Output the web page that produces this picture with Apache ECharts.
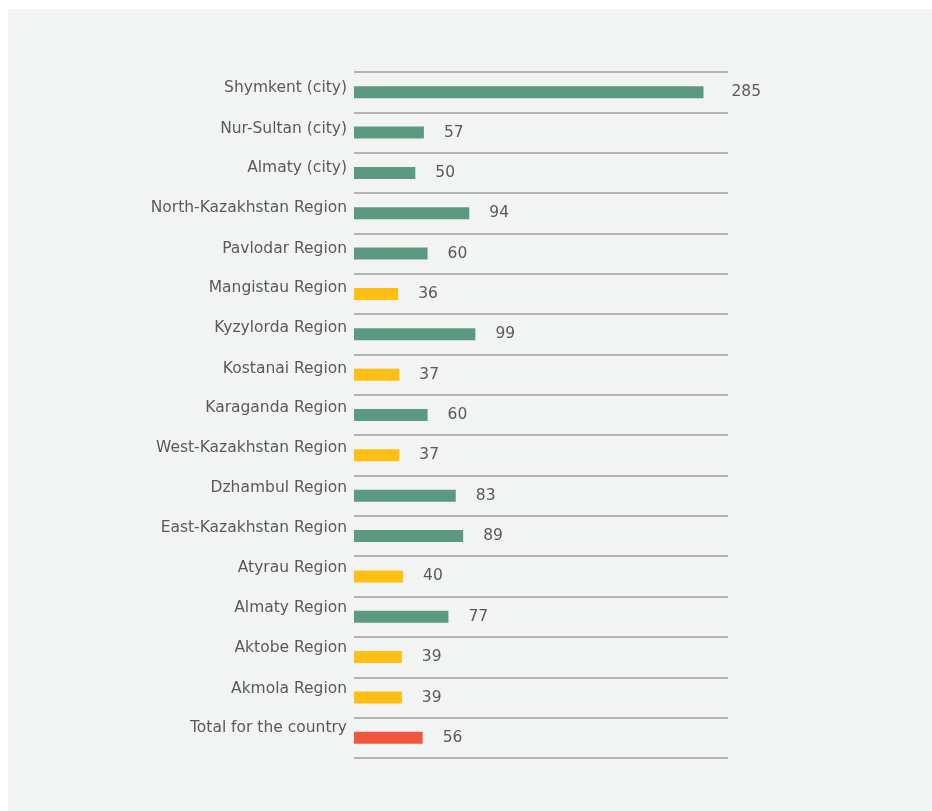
<!DOCTYPE html>
<html>
<head>
<meta charset="utf-8">
<script src="https://cdn.jsdelivr.net/npm/echarts@6/dist/echarts.min.js"></script>
<style>
  html, body { margin: 0; padding: 0; background: #ffffff; }
  #panel { position: absolute; left: 8px; top: 9px; width: 924px; height: 802px; background: #f2f4f3; }
  #chart { position: absolute; left: 0; top: 0; width: 932px; height: 811px; }
</style>
</head>
<body>
<div id="panel"></div>
<div id="chart"></div>
<script>
// Regions, listed top to bottom
const regions = [
  'Shymkent (city)', 'Nur-Sultan (city)', 'Almaty (city)', 'North-Kazakhstan Region',
  'Pavlodar Region', 'Mangistau Region', 'Kyzylorda Region', 'Kostanai Region',
  'Karaganda Region', 'West-Kazakhstan Region', 'Dzhambul Region', 'East-Kazakhstan Region',
  'Atyrau Region', 'Almaty Region', 'Aktobe Region', 'Akmola Region', 'Total for the country'
];
const values = [285, 57, 50, 94, 60, 36, 99, 37, 60, 37, 83, 89, 40, 77, 39, 39, 56];
// Group of each row: 'high', 'low' or 'total'
const groups = ['high', 'high', 'high', 'high', 'high', 'low', 'high', 'low',
  'high', 'low', 'high', 'high', 'low', 'high', 'low', 'low', 'total'];

const groupColors = { high: '#5b9a80', low: '#fdbf14', total: '#f0573f' };
const FONT = '"DejaVu Sans", sans-serif';
const TEXT = '#595959';
const SIZE = 15.5;

// Row names sit slightly above the middle of each row, a little more further down the list
const nameStyles = {};
regions.forEach((_, i) => {
  const lift = Math.round(4 + 0.35 * i);
  nameStyles['r' + i] = {
    color: TEXT, fontFamily: FONT, fontSize: SIZE,
    padding: [0, 0, lift * 2, 0]
  };
});

const maxValue = Math.max(...values);

const chart = echarts.init(document.getElementById('chart'), null, { renderer: 'canvas' });
chart.setOption({
  backgroundColor: 'transparent',
  animation: false,
  grid: { left: 354, right: 204, top: 72, bottom: 53, containLabel: false },
  xAxis: {
    type: 'value', min: 0, max: 305,
    show: false
  },
  yAxis: {
    type: 'category',
    data: regions,
    inverse: true,
    axisLine: { show: false },
    axisTick: { show: false },
    axisLabel: {
      margin: 7,
      formatter: (value, index) => '{r' + index + '|' + value + '}',
      rich: nameStyles
    },
    splitLine: { show: true, lineStyle: { color: '#b3b3b3', width: 2 } }
  },
  series: [{
    type: 'bar',
    barWidth: 12,
    data: values.map((v, i) => ({
      value: v,
      itemStyle: { color: groupColors[groups[i]] },
      // the longest bar's figure stands a little further out
      label: v === maxValue ? { distance: 28 } : undefined
    })),
    label: {
      show: true,
      position: 'right',
      distance: 20,
      color: TEXT,
      fontFamily: FONT,
      fontSize: SIZE
    }
  }]
});
</script>
</body>
</html>
